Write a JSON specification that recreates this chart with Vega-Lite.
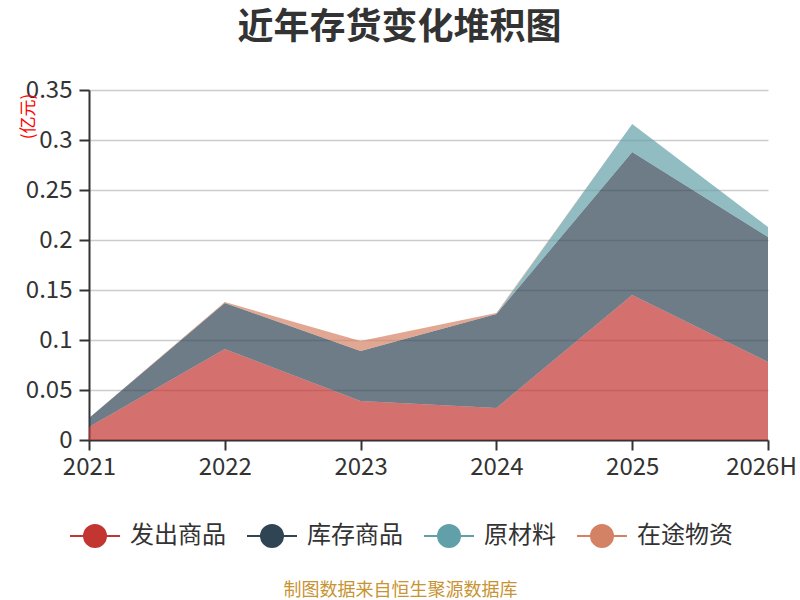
{
  "$schema": "https://vega.github.io/schema/vega-lite/v6.json",
  "autosize": {"type": "none"},
  "width": 679,
  "height": 350,
  "padding": {"left": 89, "top": 90, "right": 32, "bottom": 160},
  "background": "white",
  "title": {
    "text": "近年存货变化堆积图",
    "font": "Noto Sans CJK SC",
    "fontSize": 36,
    "fontWeight": "bold",
    "color": "#333333",
    "anchor": "middle",
    "frame": "group",
    "dx": -29,
    "offset": 31
  },
  "config": {
    "view": {"stroke": null},
    "font": "Noto Sans CJK SC"
  },
  "data": {
    "values": [
      {"year": "2021", "type": "发出商品", "o": 1, "value": 0.013},
      {"year": "2022", "type": "发出商品", "o": 1, "value": 0.091},
      {"year": "2023", "type": "发出商品", "o": 1, "value": 0.039},
      {"year": "2024", "type": "发出商品", "o": 1, "value": 0.032},
      {"year": "2025", "type": "发出商品", "o": 1, "value": 0.145},
      {"year": "2026H", "type": "发出商品", "o": 1, "value": 0.078},
      {"year": "2021", "type": "库存商品", "o": 2, "value": 0.009},
      {"year": "2022", "type": "库存商品", "o": 2, "value": 0.046},
      {"year": "2023", "type": "库存商品", "o": 2, "value": 0.050},
      {"year": "2024", "type": "库存商品", "o": 2, "value": 0.094},
      {"year": "2025", "type": "库存商品", "o": 2, "value": 0.143},
      {"year": "2026H", "type": "库存商品", "o": 2, "value": 0.125},
      {"year": "2021", "type": "原材料", "o": 3, "value": 0},
      {"year": "2022", "type": "原材料", "o": 3, "value": 0},
      {"year": "2023", "type": "原材料", "o": 3, "value": 0},
      {"year": "2024", "type": "原材料", "o": 3, "value": 0},
      {"year": "2025", "type": "原材料", "o": 3, "value": 0.028},
      {"year": "2026H", "type": "原材料", "o": 3, "value": 0.010},
      {"year": "2021", "type": "在途物资", "o": 4, "value": 0},
      {"year": "2022", "type": "在途物资", "o": 4, "value": 0.001},
      {"year": "2023", "type": "在途物资", "o": 4, "value": 0.010},
      {"year": "2024", "type": "在途物资", "o": 4, "value": 0.001},
      {"year": "2025", "type": "在途物资", "o": 4, "value": 0},
      {"year": "2026H", "type": "在途物资", "o": 4, "value": 0}
    ]
  },
  "mark": {"type": "area", "opacity": 0.7, "interpolate": "linear"},
  "encoding": {
    "x": {
      "field": "year",
      "type": "ordinal",
      "sort": ["2021", "2022", "2023", "2024", "2025", "2026H"],
      "scale": {"type": "point", "padding": 0},
      "axis": {
        "labelAngle": 0,
        "labelFontSize": 24,
        "labelColor": "#333333",
        "labelPadding": 5,
        "labelOffset": {"condition": {"test": "datum.value === '2026H'", "value": -7}, "value": 0},
        "tickSize": 10,
        "tickWidth": 2,
        "tickColor": "#333333",
        "domainColor": "#333333",
        "domainWidth": 2,
        "grid": false,
        "title": "制图数据来自恒生聚源数据库",
        "titleFontSize": 18,
        "titleFontWeight": "normal",
        "titleColor": "#c89332",
        "titleX": 311,
        "titleY": 150,
        "titleAlign": "center",
        "titleBaseline": "middle"
      }
    },
    "y": {
      "field": "value",
      "type": "quantitative",
      "stack": "zero",
      "scale": {"domain": [0, 0.35], "nice": false},
      "axis": {
        "values": [0, 0.05, 0.1, 0.15, 0.2, 0.25, 0.3, 0.35],
        "format": "~g",
        "labelFontSize": 24,
        "labelColor": "#333333",
        "labelPadding": 7,
        "tickSize": 10,
        "tickWidth": 2,
        "tickColor": "#333333",
        "domainColor": "#333333",
        "domainWidth": 2,
        "gridColor": "#cccccc",
        "gridWidth": 1.5,
        "title": "(亿元)",
        "titleFontSize": 17,
        "titleFontWeight": "normal",
        "titleColor": "#ff0000",
        "titleX": -61,
        "titleY": 26,
        "titleAngle": 270,
        "titleAlign": "center",
        "titleBaseline": "middle"
      }
    },
    "color": {
      "field": "type",
      "type": "nominal",
      "scale": {
        "domain": ["发出商品", "库存商品", "原材料", "在途物资"],
        "range": ["#c23531", "#2f4554", "#61a0a8", "#d48265"]
      },
      "legend": {
        "title": null,
        "orient": "none",
        "direction": "horizontal",
        "columns": 4,
        "legendX": -20,
        "legendY": 420,
        "padding": 0,
        "symbolType": "M-1,0L1,0M0.44,0A0.44,0.44,0,1,1,-0.44,0A0.44,0.44,0,1,1,0.44,0Z",
        "symbolSize": 2500,
        "symbolStrokeWidth": 2,
        "symbolOpacity": 1,
        "labelFontSize": 24,
        "labelColor": "#333333",
        "labelOffset": 9,
        "columnPadding": 17,
        "encode": {
          "symbols": {
            "update": {
              "stroke": {"scale": "color", "field": "value"},
              "fill": {"scale": "color", "field": "value"},
              "opacity": {"value": 1},
              "fillOpacity": {"value": 1}
            }
          }
        }
      }
    },
    "order": {"field": "o", "type": "quantitative", "sort": "ascending"}
  }
}
